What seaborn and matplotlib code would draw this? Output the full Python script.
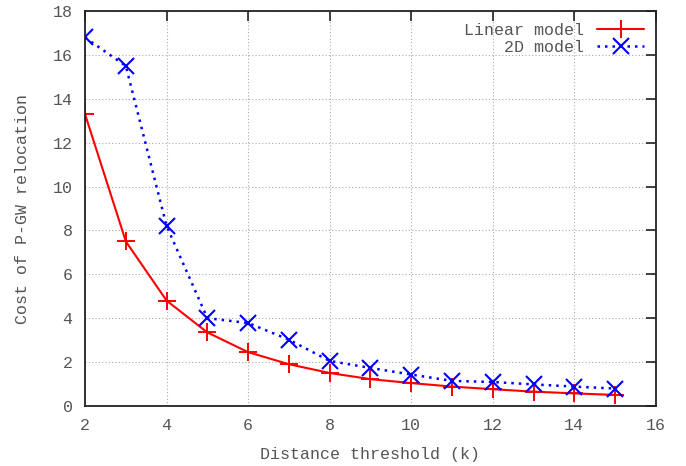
import numpy as np
import pandas as pd
import matplotlib
matplotlib.use("Agg")
import matplotlib.pyplot as plt
import seaborn as sns

# ---------------------------------------------------------------------------
# Data
# ---------------------------------------------------------------------------

k_values = [2, 3, 4, 5, 6, 7, 8, 9, 10, 11, 12, 13, 14, 15]
linear_cost = [13.3, 7.5, 4.8, 3.35, 2.45, 1.9, 1.5, 1.22, 1.04, 0.88, 0.76, 0.65, 0.57, 0.5]
model2d_cost = [16.8, 15.5, 8.2, 4.0, 3.78, 3.02, 2.05, 1.73, 1.43, 1.14, 1.09, 0.98, 0.88, 0.79]
series_names = ["Linear model", "2D model"]

df_lin = pd.DataFrame({"k": k_values, "cost": linear_cost})
df_2d = pd.DataFrame({"k": k_values, "cost": model2d_cost})

# ---------------------------------------------------------------------------
# Style
# ---------------------------------------------------------------------------

sns.set_theme(style="white")
plt.rcParams.update({
    "font.family": ["Liberation Mono", "DejaVu Sans Mono"],
    "text.color": "#555555",
    "axes.labelcolor": "#555555",
    "xtick.color": "#222222",
    "ytick.color": "#222222",
    "xtick.labelcolor": "#555555",
    "ytick.labelcolor": "#555555",
    "axes.edgecolor": "#222222",
})

fig = plt.figure(figsize=(6.86, 4.66), dpi=100)
ax = fig.add_axes([0.124, 0.129, 0.832, 0.847])

sns.lineplot(data=df_lin, x="k", y="cost", color="#ff0000", linestyle="-",
             marker="+", markersize=13, markeredgewidth=1.4,
             markeredgecolor="#ff0000", linewidth=1.5,
             label=series_names[0], ax=ax)
sns.lineplot(data=df_2d, x="k", y="cost", color="#0000ff", linestyle=(0, (1, 2)),
             marker="x", markersize=12, markeredgewidth=1.5,
             markeredgecolor="#0000ff", linewidth=1.8,
             label=series_names[1], ax=ax)

ax.set_xlim(2, 16)
ax.set_ylim(0, 18)
ax.set_xticks(np.arange(2, 17, 2))
ax.set_yticks(np.arange(0, 19, 2))
ax.grid(True, color="#aaaaaa", linestyle=(0, (1, 2)), linewidth=0.8)
ax.tick_params(direction="in", length=7, width=1.2, top=True, right=True,
               labelsize=12, pad=9)
for s in ax.spines.values():
    s.set_linewidth(1.3)

ax.set_xlabel("Distance threshold (k)", fontsize=12, labelpad=10)
ax.set_ylabel("Cost of P-GW relocation", fontsize=12, labelpad=16)

leg = ax.legend(loc="upper right", frameon=False, markerfirst=False,
                fontsize=12, handlelength=2.8, borderaxespad=0.3,
                labelspacing=0.1)
for t in leg.get_texts():
    t.set_ha("right")

fig.savefig("out.png", dpi=100)
